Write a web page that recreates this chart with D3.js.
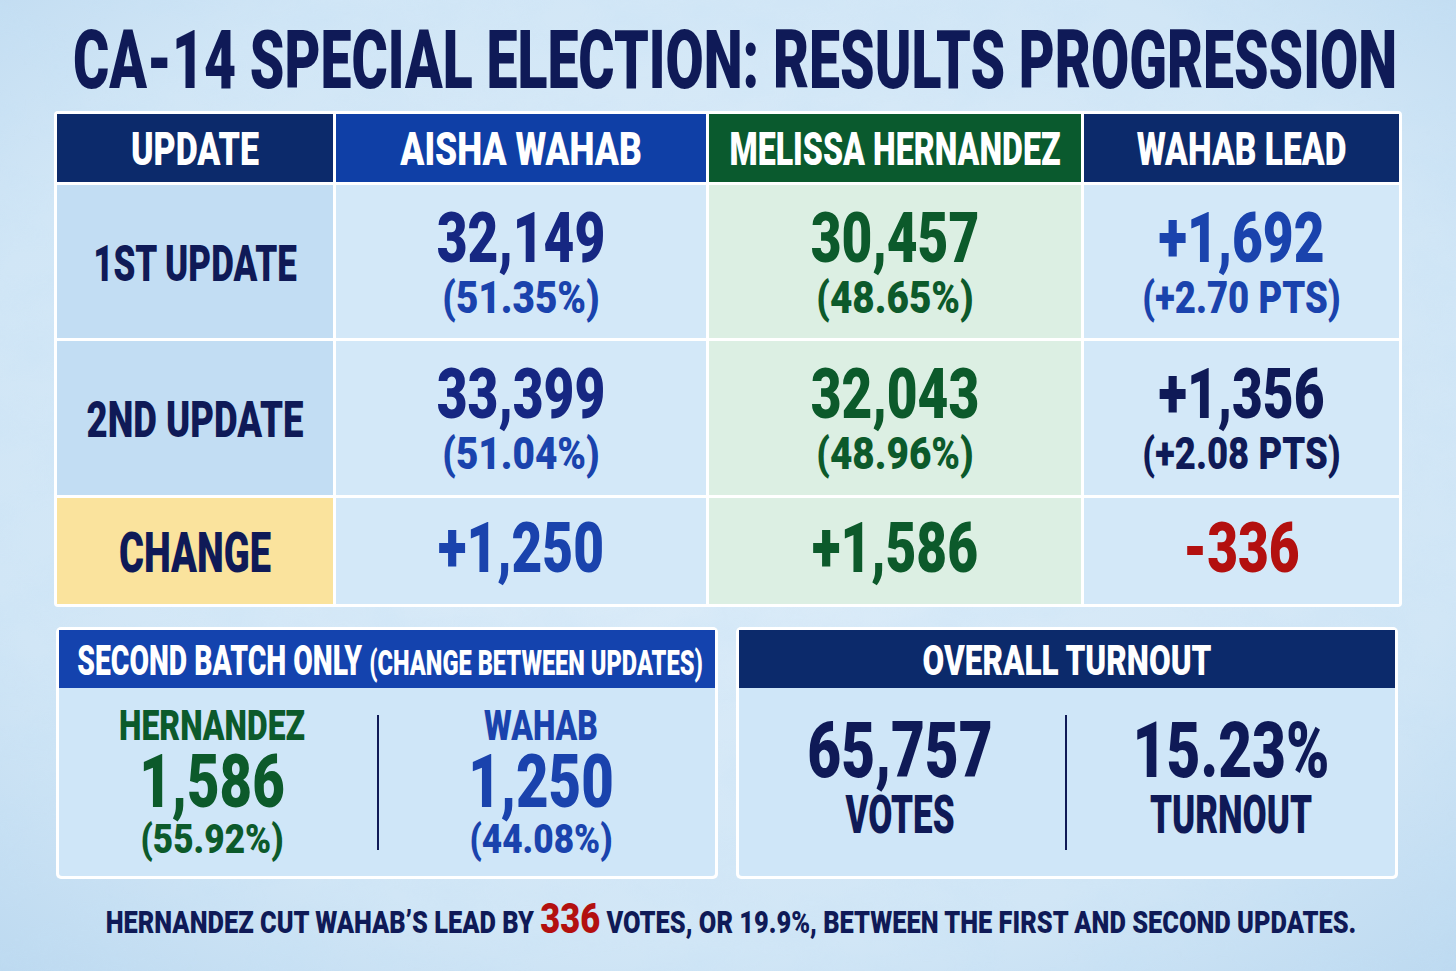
<!DOCTYPE html>
<html>
<head>
<meta charset="utf-8">
<script src="https://cdn.jsdelivr.net/npm/d3@7"></script>
<style>
  html, body { margin: 0; padding: 0; background: #d3e7f7; }
  svg { display: block; }
  text { font-family: Roboto, "DejaVu Sans", sans-serif; font-weight: 900; }
</style>
</head>
<body>
<div id="chart"></div>
<script>
// values
var title = "CA-14 SPECIAL ELECTION: RESULTS PROGRESSION";
var columns = ["UPDATE", "AISHA WAHAB", "MELISSA HERNANDEZ", "WAHAB LEAD"];
var rows = ["1ST UPDATE", "2ND UPDATE", "CHANGE"];
var wahabVotes = [32149, 33399];
var wahabPct = [51.35, 51.04];
var hernandezVotes = [30457, 32043];
var hernandezPct = [48.65, 48.96];
var leadVotes = [1692, 1356];
var leadPts = [2.70, 2.08];
var changeVotes = [1250, 1586, -336];   // wahab, hernandez, lead
var batchNames = ["HERNANDEZ", "WAHAB"];
var batchVotes = [1586, 1250];
var batchPct = [55.92, 44.08];
var turnoutValues = [65757, 15.23];
var turnoutLabels = ["VOTES", "TURNOUT"];
var leadCut = 336;
var leadCutPct = 19.9;

var W = 1456, H = 971;

var loc = d3.formatLocale({ decimal: ".", thousands: ",", grouping: [3], currency: ["$", ""], minus: "-" });
var fInt = loc.format(",");
var fSigned = loc.format("+,");
var fPct = loc.format(".2f");
var fPts = loc.format("+.2f");

var navy = "#0f1a57", royal = "#1a43ad", deepBlue = "#162782", green = "#0c5a2b", red = "#b3100f";

var svg = d3.select("#chart").append("svg")
  .attr("width", W)
  .attr("height", H);

var defs = svg.append("defs");
var bg = defs.append("radialGradient").attr("id", "bg")
  .attr("cx", "50%").attr("cy", "45%").attr("r", "75%");
bg.append("stop").attr("offset", "0%").attr("stop-color", "#deedf9");
bg.append("stop").attr("offset", "70%").attr("stop-color", "#d1e6f6");
bg.append("stop").attr("offset", "100%").attr("stop-color", "#bcd9f0");

var tex = defs.append("filter").attr("id", "tex").attr("x", 0).attr("y", 0).attr("width", 1).attr("height", 1);
tex.append("feTurbulence").attr("type", "fractalNoise").attr("baseFrequency", "0.012 0.02").attr("numOctaves", 4).attr("seed", 7);
tex.append("feColorMatrix").attr("type", "matrix")
  .attr("values", "0 0 0 0 0.55  0 0 0 0 0.75  0 0 0 0 0.92  0 0 0 -1.2 0.75");

svg.append("rect").attr("width", W).attr("height", H).attr("fill", "url(#bg)");
svg.append("rect").attr("width", W).attr("height", H).attr("filter", "url(#tex)").attr("opacity", 0.4);

// text helper: condensed look by horizontal scaling
function label(g, x, y, str, size, color, sx) {
  return g.append("text")
    .attr("transform", "translate(" + x + "," + y + ") scale(" + sx + ",1)")
    .attr("text-anchor", "middle")
    .attr("font-size", size)
    .attr("fill", color)
    .text(str);
}

// title
label(svg, 735, 88, title, 82, navy, 0.675);

// ---- main table ----
var colX = d3.scaleOrdinal().domain(columns).range([57, 336, 709, 1084]);
var colW = d3.scaleOrdinal().domain(columns).range([276, 370, 372, 315]);
var rowY = d3.scaleOrdinal().domain(["HEAD"].concat(rows)).range([114, 185, 341, 498]);
var rowH = d3.scaleOrdinal().domain(["HEAD"].concat(rows)).range([68, 153, 154, 106]);
var headFill = d3.scaleOrdinal().domain(columns).range(["#0c2a6b", "#0f3fa6", "#0a5a2e", "#0c2a6b"]);
var headSx = d3.scaleOrdinal().domain(columns).range([0.74, 0.77, 0.70, 0.73]);
var bodyFill = d3.scaleOrdinal().domain(columns).range(["#c2ddf3", "#d3e8f8", "#dcefe3", "#d3e8f8"]);

var table = svg.append("g");
table.append("rect")
  .attr("x", 54).attr("y", 111).attr("width", 1348).attr("height", 496)
  .attr("rx", 4).attr("fill", "#ffffff");

table.selectAll("rect.head").data(columns).enter().append("rect")
  .attr("class", "head")
  .attr("x", d => colX(d)).attr("y", rowY("HEAD"))
  .attr("width", d => colW(d)).attr("height", rowH("HEAD"))
  .attr("fill", d => headFill(d));

columns.forEach(function (d) {
  label(table, colX(d) + colW(d) / 2, 165, d, 46, "#ffffff", headSx(d));
});

var cells = [];
rows.forEach(function (r) {
  columns.forEach(function (c) { cells.push({ row: r, col: c }); });
});
table.selectAll("rect.cell").data(cells).enter().append("rect")
  .attr("class", "cell")
  .attr("x", d => colX(d.col)).attr("y", d => rowY(d.row))
  .attr("width", d => colW(d.col)).attr("height", d => rowH(d.row))
  .attr("fill", d => (d.row === "CHANGE" && d.col === "UPDATE") ? "#fae39d" : bodyFill(d.col));

var cx = function (c) { return colX(c) + colW(c) / 2; };

// row labels
var rowSx = [0.70, 0.73, 0.68];
rows.forEach(function (r, i) {
  var base = rowY(r) + (i < 2 ? 96 : 74);
  label(table, cx("UPDATE"), base, r, i < 2 ? 50 : 56, navy, rowSx[i]);
});

// vote rows
[0, 1].forEach(function (i) {
  var top = rowY(rows[i]);
  label(table, cx("AISHA WAHAB"), top + 77, fInt(wahabVotes[i]), 70, deepBlue, 0.76);
  label(table, cx("AISHA WAHAB"), top + 128, "(" + fPct(wahabPct[i]) + "%)", 44, royal, 0.88);
  label(table, cx("MELISSA HERNANDEZ"), top + 77, fInt(hernandezVotes[i]), 70, green, 0.76);
  label(table, cx("MELISSA HERNANDEZ"), top + 128, "(" + fPct(hernandezPct[i]) + "%)", 44, green, 0.88);
  label(table, cx("WAHAB LEAD"), top + 77, fSigned(leadVotes[i]), 70, i === 0 ? royal : navy, 0.76);
  label(table, cx("WAHAB LEAD"), top + 128, "(" + fPts(leadPts[i]) + " PTS)", 44, i === 0 ? royal : navy, 0.83);
});

// change row
var changeCols = ["AISHA WAHAB", "MELISSA HERNANDEZ", "WAHAB LEAD"];
var changeColor = [royal, green, red];
changeVotes.forEach(function (v, i) {
  label(table, cx(changeCols[i]), rowY("CHANGE") + 74, fSigned(v), 70, changeColor[i], 0.76);
});

// ---- bottom panels ----
function panel(x, headColor) {
  var g = svg.append("g");
  g.append("rect").attr("x", x).attr("y", 627).attr("width", 662).attr("height", 252)
    .attr("rx", 5).attr("fill", "#ffffff");
  g.append("rect").attr("x", x + 3).attr("y", 630).attr("width", 656).attr("height", 246)
    .attr("rx", 3).attr("fill", "#cfe6f8");
  g.append("rect").attr("x", x + 3).attr("y", 630).attr("width", 656).attr("height", 58)
    .attr("fill", headColor);
  return g;
}

var left = panel(56, "#1443ae");
left.append("text")
  .attr("transform", "translate(390,675) scale(0.675,1)")
  .attr("text-anchor", "middle").attr("fill", "#ffffff").attr("font-size", 42)
  .call(function (t) {
    t.append("tspan").text("SECOND BATCH ONLY ");
    t.append("tspan").attr("font-size", 35).text("(CHANGE BETWEEN UPDATES)");
  });
left.append("line").attr("x1", 378).attr("x2", 378).attr("y1", 715).attr("y2", 850)
  .attr("stroke", navy).attr("stroke-width", 2);

var batchX = d3.scaleOrdinal().domain(batchNames).range([212, 541]);
var batchColor = d3.scaleOrdinal().domain(batchNames).range([green, royal]);
batchNames.forEach(function (n, i) {
  label(left, batchX(n), 740, n, 42, batchColor(n), 0.76);
  label(left, batchX(n), 807, fInt(batchVotes[i]), 74, batchColor(n), 0.76);
  label(left, batchX(n), 853, "(" + fPct(batchPct[i]) + "%)", 40, batchColor(n), 0.88);
});

var right = panel(736, "#0c2a6b");
label(right, 1067, 675, "OVERALL TURNOUT", 42, "#ffffff", 0.75);
right.append("line").attr("x1", 1066).attr("x2", 1066).attr("y1", 715).attr("y2", 850)
  .attr("stroke", navy).attr("stroke-width", 2);
var turnX = d3.scaleOrdinal().domain(turnoutLabels).range([900, 1231]);
label(right, turnX("VOTES"), 777, fInt(turnoutValues[0]), 77, navy, 0.76);
label(right, turnX("TURNOUT"), 777, fPct(turnoutValues[1]) + "%", 77, navy, 0.76);
turnoutLabels.forEach(function (l) {
  label(right, turnX(l), 833, l, 53, navy, 0.66);
});

// ---- footer ----
svg.append("text")
  .attr("transform", "translate(731,933) scale(0.82,1)")
  .attr("text-anchor", "middle").attr("fill", navy).attr("font-size", 31)
  .call(function (t) {
    t.append("tspan").text("HERNANDEZ CUT WAHAB\u2019S LEAD BY ");
    t.append("tspan").attr("fill", red).attr("font-size", 42).text(fInt(leadCut));
    t.append("tspan").text(" VOTES, OR " + leadCutPct + "%, BETWEEN THE FIRST AND SECOND UPDATES.");
  });
</script>
</body>
</html>
